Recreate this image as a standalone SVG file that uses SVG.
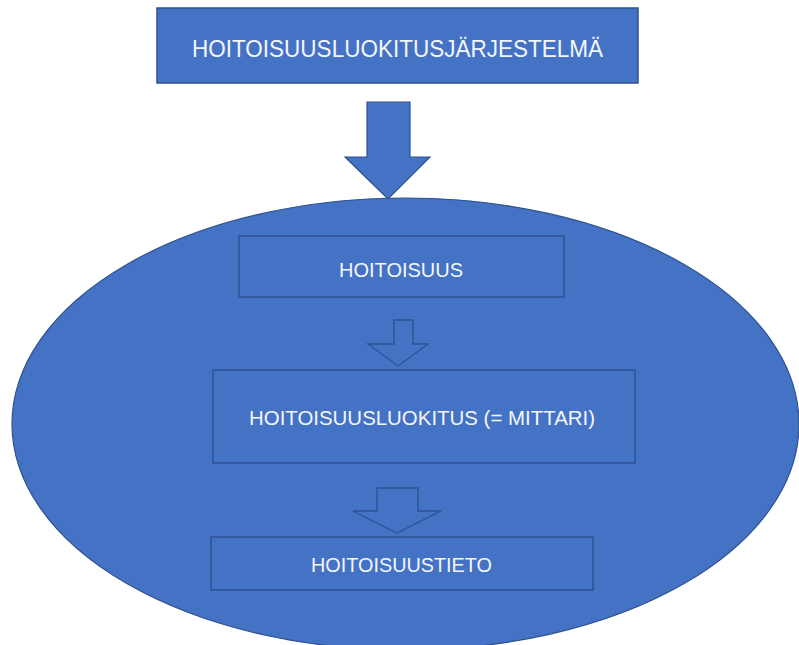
<svg xmlns="http://www.w3.org/2000/svg" width="799" height="645" viewBox="0 0 799 645">
<style>
.shape{fill:#4472C4;stroke:#2F528F;stroke-width:1.2}
.box{fill:#4472C4;stroke:#2F528F;stroke-width:1.5}
.lbl{font-family:"Liberation Sans",Arial,sans-serif;fill:#F4F6FB;text-anchor:middle}
</style>
<rect width="799" height="645" fill="#FFFFFF"/>
<g id="system">
<rect class="box" x="157" y="8" width="481" height="75"/>
<text class="lbl" x="397.5" y="57" font-size="24" textLength="411" lengthAdjust="spacingAndGlyphs">HOITOISUUSLUOKITUSJÄRJESTELMÄ</text>
</g>
<g id="ellipse">
<ellipse class="shape" cx="405.5" cy="424" rx="393.5" ry="226"/>
</g>
<g id="connectors">
<polygon class="shape" points="367,102 410,102 410,157 430,157 388,199 345,157 367,157"/>
<polygon fill="none" stroke="#2F528F" stroke-width="1.3" points="394,320 413,320 413,344 428,344 398,366 368,344 394,344"/>
<polygon fill="none" stroke="#2F528F" stroke-width="1.3" points="377,488 418,488 418,511 441,511 397,533 353,511 377,511"/>
</g>
<g id="hoitoisuus">
<rect class="box" x="239" y="236" width="325" height="61"/>
<text class="lbl" x="401" y="277" font-size="21" textLength="124" lengthAdjust="spacingAndGlyphs">HOITOISUUS</text>
</g>
<g id="luokitus">
<rect class="box" x="213" y="370" width="422" height="93"/>
<text class="lbl" x="422" y="425" font-size="21" textLength="346" lengthAdjust="spacingAndGlyphs">HOITOISUUSLUOKITUS (= MITTARI)</text>
</g>
<g id="tieto">
<rect class="box" x="211" y="537" width="382" height="53"/>
<text class="lbl" x="401.5" y="572" font-size="21" textLength="181" lengthAdjust="spacingAndGlyphs">HOITOISUUSTIETO</text>
</g>
</svg>
